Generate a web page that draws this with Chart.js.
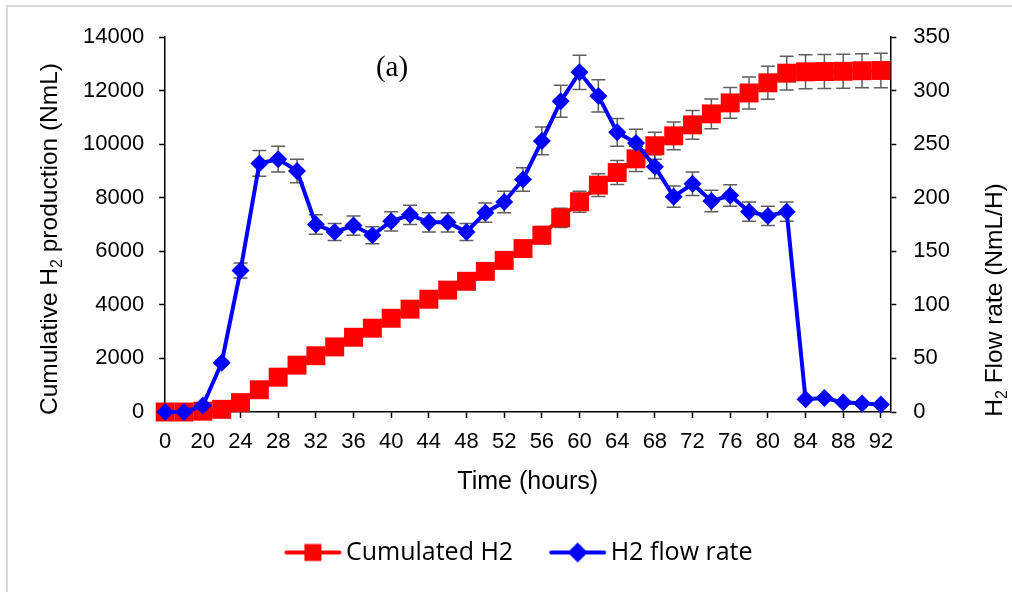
<!DOCTYPE html>
<html>
<head>
<meta charset="utf-8">
<script src="https://cdn.jsdelivr.net/npm/chart.js@4.4.1/dist/chart.umd.min.js"></script>
<style>
  html, body { margin: 0; padding: 0; background: #fff; }
  #wrap { position: relative; width: 1012px; height: 592px; overflow: hidden; }
  #frame { position: absolute; left: 6px; top: 5px; width: 1100px; height: 700px;
           border: 2px solid #d9d9d9; box-sizing: border-box; }
  #chart { position: absolute; left: 0; top: 0; }
</style>
</head>
<body>
<div id="wrap">
  <div id="frame"></div>
  <canvas id="chart" width="1012" height="592"></canvas>
</div>
<script>
// time points (hours)
const hours = [0, 10, 20, 22, 24, 26, 28, 30, 32, 34, 36, 38, 40, 42, 44, 46, 48, 50, 52,
  54, 56, 58, 60, 62, 64, 66, 68, 70, 72, 74, 76, 78, 80, 82, 84, 86, 88, 90, 92];

// cumulated H2 (NmL), left axis
const cumulated = [0, 0, 30, 100, 350, 830, 1300, 1750, 2100, 2430, 2790, 3130, 3500, 3840,
  4210, 4550, 4880, 5250, 5660, 6100, 6600, 7250, 7850, 8470, 8940, 9450, 9940, 10310,
  10720, 11130, 11540, 11910, 12290, 12650, 12700, 12710, 12720, 12740, 12750];
const cumulatedErr = [0, 0, 0, 5, 20, 40, 65, 90, 105, 120, 140, 155, 175, 190, 210, 230,
  245, 265, 285, 305, 330, 360, 390, 425, 445, 470, 500, 515, 535, 555, 575, 595, 615, 630,
  635, 635, 635, 635, 640];

// H2 flow rate (NmL/H), right axis
const flowRate = [0, 0, 6, 46, 132, 232, 236, 225, 175, 168, 174, 165, 178, 184, 177, 177,
  168, 186, 196, 217, 253, 290, 317, 295, 261, 251, 229, 201, 213, 197, 202, 187, 183, 187,
  12, 13, 9, 8, 7];
const flowRateErr = [0, 0, 0, 2, 7, 12, 12, 11, 9, 8, 9, 8, 9, 9, 9, 9, 8, 9, 10, 11, 13, 15,
  16, 15, 13, 13, 11, 10, 11, 10, 10, 9, 9, 9, 1, 1, 0, 0, 0];

const RED = '#ff0000';
const BLUE = '#0000ff';

Chart.defaults.font.family = '"Liberation Sans", Arial, sans-serif';
Chart.defaults.color = '#000';

// line + marker swatch for the legend
function swatch(color, shape) {
  const c = document.createElement('canvas');
  c.width = 93; c.height = 22;
  const g = c.getContext('2d');
  g.strokeStyle = color; g.fillStyle = color;
  g.lineWidth = 4; g.lineCap = 'round';
  g.beginPath(); g.moveTo(37, 11); g.lineTo(90, 11); g.stroke();
  const mx = 63.5;
  if (shape === 'rect') {
    g.fillRect(mx - 8.5, 11 - 8.5, 17, 17);
  } else {
    g.beginPath();
    g.moveTo(mx - 10, 11); g.lineTo(mx, 1); g.lineTo(mx + 10, 11); g.lineTo(mx, 21);
    g.closePath(); g.fill();
  }
  return c;
}

const errorBars = {
  id: 'errorBars',
  beforeDatasetsDraw(chart) {
    const ctx = chart.ctx;
    chart.data.datasets.forEach((ds, i) => {
      const meta = chart.getDatasetMeta(i);
      const ys = chart.scales[ds.yAxisID];
      ctx.save();
      ctx.strokeStyle = '#5f5f5f';
      ctx.lineWidth = 1.5;
      meta.data.forEach((pt, j) => {
        const e = ds.errors[j];
        if (!e) return;
        const y1 = ys.getPixelForValue(ds.data[j] + e);
        const y2 = ys.getPixelForValue(ds.data[j] - e);
        ctx.beginPath();
        ctx.moveTo(pt.x, y1); ctx.lineTo(pt.x, y2);
        ctx.moveTo(pt.x - 7, y1); ctx.lineTo(pt.x + 7, y1);
        ctx.moveTo(pt.x - 7, y2); ctx.lineTo(pt.x + 7, y2);
        ctx.stroke();
      });
      ctx.restore();
    });
  }
};

// rotated axis titles with a subscript 2, plus the panel label
function subTitle(ctx, x, y, before, after) {
  ctx.save();
  ctx.translate(x, y);
  ctx.rotate(-Math.PI / 2);
  const big = '24.5px "Liberation Sans", Arial, sans-serif';
  const small = '16px "Liberation Sans", Arial, sans-serif';
  ctx.font = big; const w1 = ctx.measureText(before).width; const w3 = ctx.measureText(after).width;
  ctx.font = small; const w2 = ctx.measureText('2').width;
  let cx = -(w1 + w2 + w3) / 2;
  ctx.fillStyle = '#000';
  ctx.textBaseline = 'middle';
  ctx.textAlign = 'left';
  ctx.font = big; ctx.fillText(before, cx, 0); cx += w1;
  ctx.font = small; ctx.fillText('2', cx, 8); cx += w2;
  ctx.font = big; ctx.fillText(after, cx, 0);
  ctx.restore();
}

const annotations = {
  id: 'annotations',
  afterLayout(chart) {
    // legend sits a little left of centre in the original
    chart.legend.left -= 12;
    chart.legend.right -= 12;
  },
  afterDraw(chart) {
    const ctx = chart.ctx;
    subTitle(ctx, 50, 239, 'Cumulative H', ' production (NmL)');
    subTitle(ctx, 995, 300, 'H', ' Flow rate (NmL/H)');
    ctx.save();
    ctx.font = '29px "Liberation Serif", "Times New Roman", serif';
    ctx.fillStyle = '#000';
    ctx.textAlign = 'center';
    ctx.textBaseline = 'middle';
    ctx.fillText('(a)', 392, 68);
    ctx.restore();
  }
};

const swatches = [swatch(RED, 'rect'), swatch(BLUE, 'diamond')];

new Chart(document.getElementById('chart'), {
  type: 'line',
  data: {
    labels: hours.map(String),
    datasets: [
      {
        label: 'Cumulated H2',
        data: cumulated,
        errors: cumulatedErr,
        yAxisID: 'y',
        order: 1,
        borderColor: RED,
        backgroundColor: RED,
        borderWidth: 4,
        pointStyle: 'rect',
        pointRadius: 13.4,
        pointBorderWidth: 0,
        tension: 0,
        clip: false
      },
      {
        label: 'H2 flow rate',
        data: flowRate,
        errors: flowRateErr,
        yAxisID: 'y1',
        order: 0,
        borderColor: BLUE,
        backgroundColor: BLUE,
        borderWidth: 4,
        pointStyle: 'rectRot',
        pointRadius: 9,
        pointBorderWidth: 0,
        tension: 0,
        clip: false
      }
    ]
  },
  options: {
    responsive: false,
    animation: false,
    events: [],
    layout: { padding: { left: 68, right: 45, top: 37, bottom: 17 } },
    scales: {
      x: {
        type: 'category',
        offset: false,
        // leave half a category of room before the right axis
        afterBuildTicks: (s) => { s._valueRange += 0.5; },
        border: { display: true, color: '#000', width: 1.5 },
        grid: {
          display: true, drawOnChartArea: false, drawTicks: true, tickLength: 6, tickWidth: 1.5,
          tickColor: (c) => (c.index % 2 ? 'rgba(0,0,0,0)' : '#000')
        },
        ticks: {
          autoSkip: false, maxRotation: 0, padding: 13,
          font: { size: 22, lineHeight: 1.0 },
          callback: (v, i) => (i % 2 ? '' : hours[i])
        },
        title: {
          display: true, text: 'Time (hours)',
          font: { size: 25 },
          padding: { top: 1, bottom: 33 }
        }
      },
      y: {
        position: 'left',
        min: 0, max: 14000,
        border: { display: true, color: '#000', width: 1.5 },
        grid: { drawOnChartArea: false, drawTicks: true, tickLength: 6, tickWidth: 1.5, tickColor: '#000' },
        ticks: { stepSize: 2000, padding: 15, font: { size: 22 }, callback: (v) => String(v) }
      },
      y1: {
        position: 'right',
        min: 0, max: 350,
        border: { display: true, color: '#000', width: 1.5 },
        grid: { drawOnChartArea: false, drawTicks: true, tickLength: 6, tickWidth: 1.5, tickColor: '#000' },
        ticks: { stepSize: 50, padding: 17, font: { size: 22 }, callback: (v) => String(v) }
      }
    },
    plugins: {
      tooltip: { enabled: false },
      legend: {
        position: 'bottom',
        labels: {
          usePointStyle: true,
          pointStyleWidth: 75,
          padding: 10,
          color: '#000',
          font: { family: '"Open Sans", "Noto Sans", sans-serif', size: 25 },
          generateLabels: (chart) => chart.data.datasets.map((ds, i) => ({
            text: ds.label,
            pointStyle: swatches[i],
            fillStyle: ds.backgroundColor,
            strokeStyle: ds.borderColor,
            lineWidth: 0,
            hidden: false,
            datasetIndex: i,
            fontColor: '#000'
          }))
        }
      }
    }
  },
  plugins: [errorBars, annotations]
});
</script>
</body>
</html>
